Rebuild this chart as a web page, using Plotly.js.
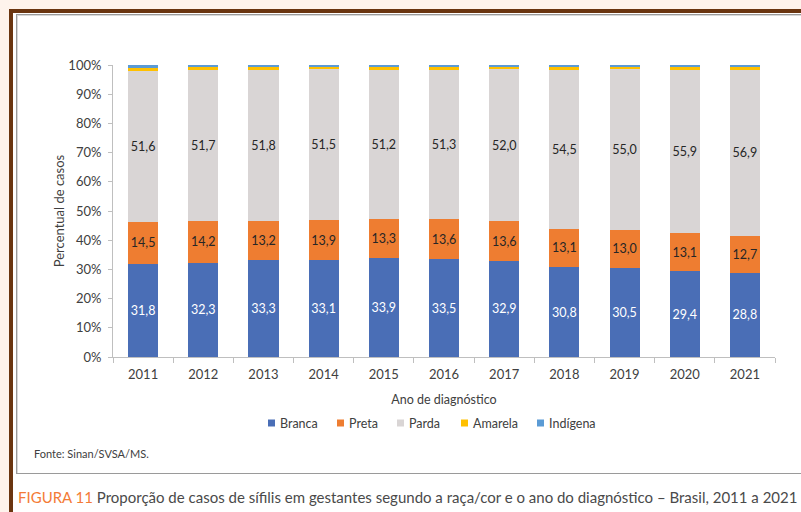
<!DOCTYPE html>
<html>
<head>
<meta charset="utf-8">
<script src="https://cdn.plot.ly/plotly-3.0.1.min.js"></script>
<style>
  html, body { margin:0; padding:0; }
  body { width:801px; height:512px; background:#FEF3EC; position:relative; overflow:hidden; }
  #frame { position:absolute; left:9px; top:9px; width:792px; height:503px; background:#ffffff;
           border-left:4px solid #6A3510; border-top:4px solid #6A3510; box-sizing:border-box; }
  #box { position:absolute; left:16px; top:14px; width:800px; height:460px; background:#ffffff;
         border:1px solid #9a9a9a; box-shadow: inset 1px 1px 0 #d8d8d8; box-sizing:border-box; }
  #chart { position:absolute; left:0; top:0; width:801px; height:512px; }
</style>
</head>
<body>
<div id="frame"></div>
<div id="box"></div>
<div id="chart"></div>
<script>
const years = ['2011','2012','2013','2014','2015','2016','2017','2018','2019','2020','2021'];
const branca = [31.8, 32.3, 33.3, 33.1, 33.9, 33.5, 32.9, 30.8, 30.5, 29.4, 28.8];
const preta  = [14.5, 14.2, 13.2, 13.9, 13.3, 13.6, 13.6, 13.1, 13.0, 13.1, 12.7];
const parda  = [51.6, 51.7, 51.8, 51.5, 51.2, 51.3, 52.0, 54.5, 55.0, 55.9, 56.9];
const amarela  = [1.2, 1.1, 1.0, 0.9, 1.0, 1.0, 0.9, 1.0, 0.9, 1.0, 1.0];
const indigena = [0.9, 0.7, 0.7, 0.6, 0.6, 0.6, 0.6, 0.6, 0.6, 0.6, 0.6];
const yTicks = [0,10,20,30,40,50,60,70,80,90,100];
const yTickText = ['0%','10%','20%','30%','40%','50%','60%','70%','80%','90%','100%'];
const seriesNames = ['Branca','Preta','Parda','Amarela','Indígena'];
const seriesColors = ['#4A6EB6','#EE7D31','#D9D5D5','#FFC000','#5B9BD5'];

const fmt = v => v.toFixed(1).replace('.', ',');
const FONT = 'Lato, "Open Sans", sans-serif';

function bar(i, vals, textColor, showText) {
  return {
    type:'bar', name:seriesNames[i], x:years, y:vals,
    marker:{color:seriesColors[i], line:{width:0}},
    text: showText ? vals.map(fmt) : undefined,
    textposition: showText ? 'inside' : 'none',
    insidetextanchor:'middle',
    textangle:0,
    constraintext:'none',
    insidetextfont:{family:FONT, size:12.5, color:textColor},
    hoverinfo:'skip', showlegend:false
  };
}

const data = [
  bar(0, branca, '#ffffff', true),
  bar(1, preta, '#262626', true),
  bar(2, parda, '#262626', true),
  bar(3, amarela, '#262626', false),
  bar(4, indigena, '#262626', false)
];

const ml = 113, mr = 26, mt = 65, mb = 155;
const pw = 801 - ml - mr, ph = 512 - mt - mb;
const px = x => (x - ml) / pw;
const py = y => (512 - mb - y) / ph;

// custom legend (square + label), pixel layout positions
const legendX = [268, 337, 397, 461, 537];
const legendY = 423;
const shapes = [], annotations = [];
seriesNames.forEach((n, i) => {
  shapes.push({type:'rect', xref:'paper', yref:'paper',
    x0:px(legendX[i]), x1:px(legendX[i] + 7), y0:py(legendY + 3.5), y1:py(legendY - 3.5),
    fillcolor:seriesColors[i], line:{width:0}});
  annotations.push({xref:'paper', yref:'paper', x:px(legendX[i] + 10), y:py(legendY),
    xanchor:'left', yanchor:'middle', showarrow:false, text:n,
    font:{family:FONT, size:12.5, color:'#404040'}});
});
annotations.push(
  {xref:'paper', yref:'paper', x:px(32), y:py(453), xanchor:'left', yanchor:'middle',
   showarrow:false, text:'Fonte: Sinan/SVSA/MS.', font:{family:FONT, size:11, color:'#404040'}},
  {xref:'paper', yref:'paper', x:px(16), y:py(497), xanchor:'left', yanchor:'middle',
   showarrow:false,
   text:'<span style="color:#F47B36">FIGURA 11</span> Proporção de casos de sífilis em gestantes segundo a raça/cor e o ano do diagnóstico – Brasil, 2011 a 2021',
   font:{family:FONT, size:15, color:'#4a4a4a'}}
);

const layout = {
  width:801, height:512,
  margin:{l:ml, r:mr, t:mt, b:mb, pad:0},
  paper_bgcolor:'rgba(0,0,0,0)', plot_bgcolor:'rgba(0,0,0,0)',
  barmode:'stack', bargap:0.5,
  font:{family:FONT, size:12, color:'#404040'},
  xaxis:{
    type:'category', showgrid:false, zeroline:false,
    showline:true, linecolor:'#BFBFBF', linewidth:1,
    ticks:'outside', tickson:'boundaries', ticklen:5, tickcolor:'#BFBFBF',
    ticklabelstandoff:5,
    tickfont:{family:FONT, size:13, color:'#404040'},
    title:{text:'Ano de diagnóstico', font:{family:FONT, size:12.5, color:'#404040'}, standoff:14}
  },
  yaxis:{
    range:[0,100], tickmode:'array', tickvals:yTicks, ticktext:yTickText,
    showgrid:false, zeroline:false,
    showline:true, linecolor:'#BFBFBF', linewidth:1,
    ticks:'outside', ticklen:4, tickcolor:'#BFBFBF',
    ticklabelstandoff:4,
    tickfont:{family:FONT, size:13, color:'#404040'},
    title:{text:'Percentual de casos', font:{family:FONT, size:13, color:'#404040'}, standoff:0}
  },
  showlegend:false,
  shapes:shapes,
  annotations:annotations
};

Plotly.newPlot('chart', data, layout, {staticPlot:true, displayModeBar:false});
</script>
</body>
</html>
